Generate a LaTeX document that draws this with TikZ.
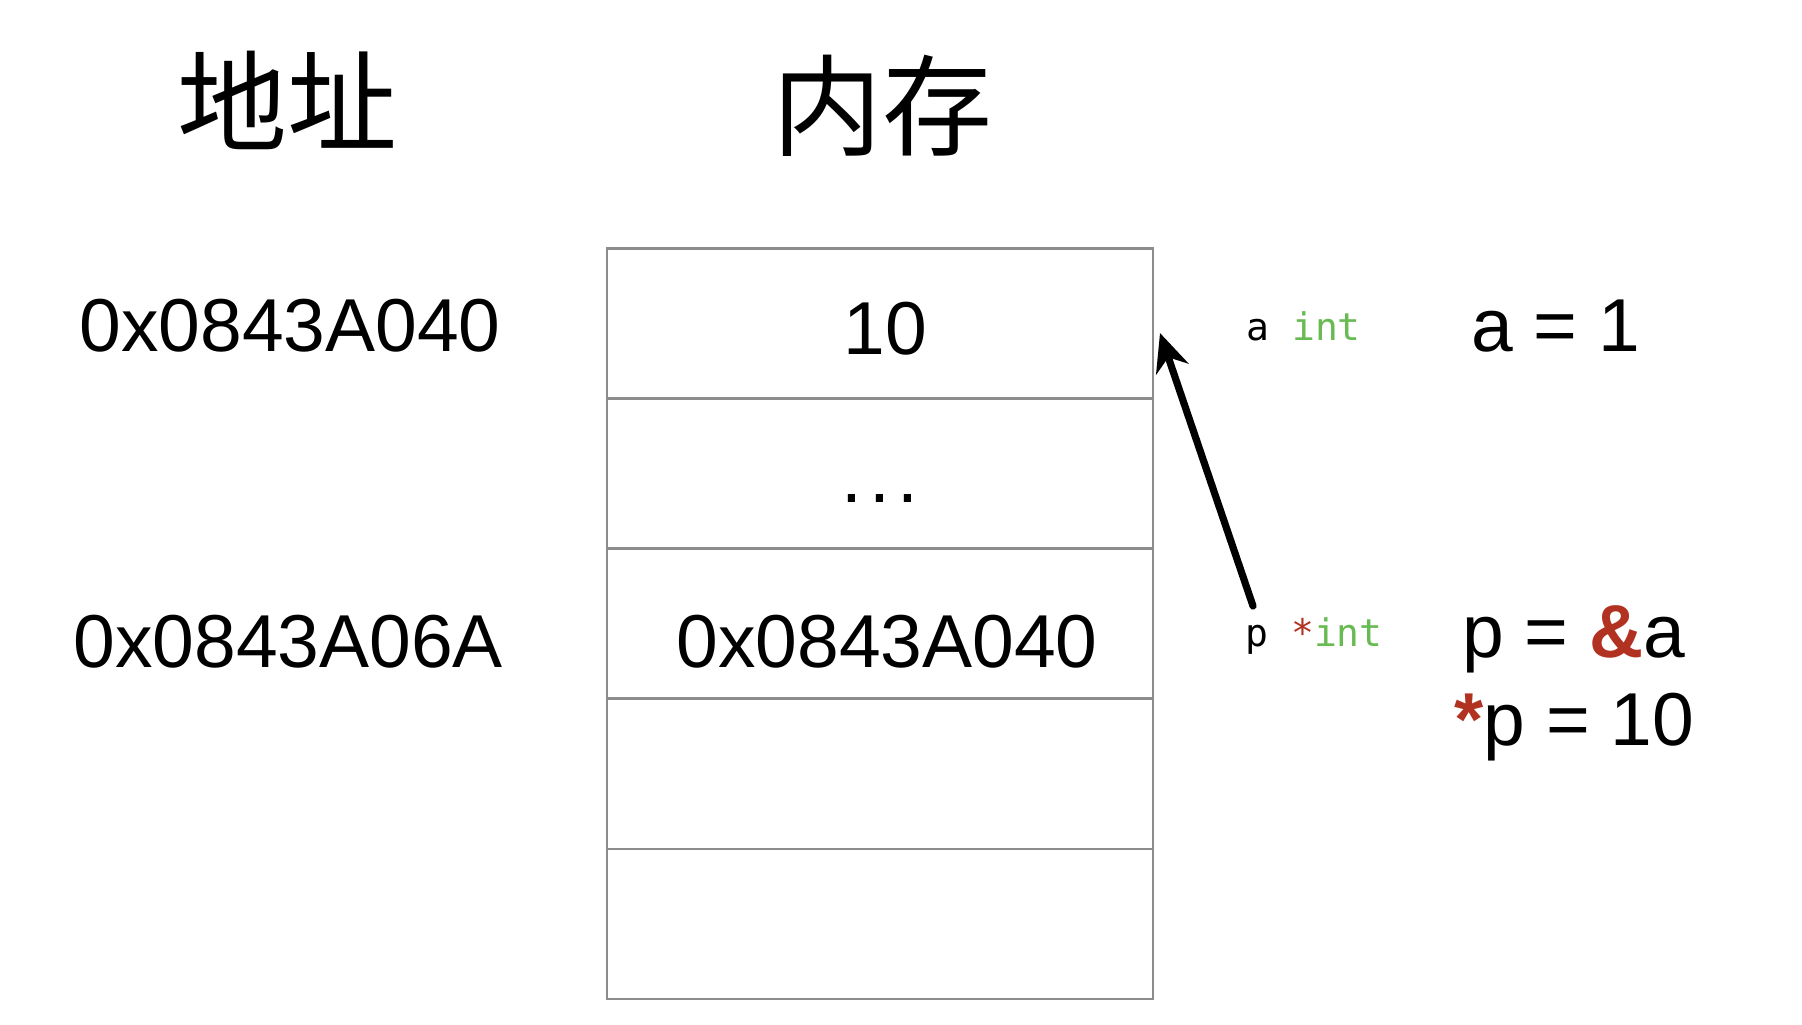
\documentclass[tikz,border=0pt]{standalone}
\usepackage{fontspec}
\setmainfont{Liberation Sans}
\newfontfamily\cjk{Noto Sans CJK SC}
\newfontfamily\codefont{DejaVu Sans Mono}
\usetikzlibrary{arrows.meta}
\definecolor{cellgray}{RGB}{140,140,140}
\definecolor{ampred}{RGB}{178,50,34}
\definecolor{typegreen}{RGB}{104,186,82}
\begin{document}
\begin{tikzpicture}[x=0.5pt,y=-0.5pt,
  cell/.style={draw=cellgray,line width=1.4pt,minimum width=273pt,minimum height=75pt,inner sep=0pt,fill=white},
  big/.style={inner sep=0pt,font=\fontsize{37.5}{44}\selectfont},
  title/.style={inner sep=0pt,font=\cjk\fontsize{55}{60}\selectfont},
  code/.style={inner sep=0pt,font=\codefont\fontsize{19}{22}\selectfont},
  ptr/.style={-{Stealth[length=19pt,width=17pt]},line width=3.6pt,line cap=round}]
\useasboundingbox[fill=white] (0,0) rectangle (1802,1024);
% titles
\node[title] (t1) at (287,100) {地址};
\node[title] (t2) at (882,106) {内存};
% memory cells
\node[cell] (c1) at (880,323.5) {};
\node[cell] (c2) at (880,473.5) {};
\node[cell] (c3) at (880,623.5) {};
\node[cell] (c4) at (880,774) {};
\node[cell] (c5) at (880,924) {};
% cell contents
\node[big,anchor=base] (v1) at (885,354) {10};
\node[big,anchor=base] (v2) at (880,502) {.\hspace{0.1em}.\hspace{0.1em}.};
\node[big,anchor=base west] (v3) at (676,667) {0x0843A040};
% addresses
\node[big,anchor=base west] (a1) at (79,351) {0x0843A040};
\node[big,anchor=base west] (a2) at (73,667) {0x0843A06A};
% variable declarations
\node[code,anchor=base west] (da) at (1246,340) {a \textcolor{typegreen}{int}};
\node[code,anchor=base west] (dp) at (1245,646) {p \textcolor{ampred}{*}\textcolor{typegreen}{int}};
% statements
\node[big,anchor=base west] (s1) at (1471,351) {a = 1};
\node[big,anchor=base west] (s2) at (1462,657) {p = \textcolor{ampred}{\bfseries\&}a};
\node[big,anchor=base west] (s3) at (1454,745) {\textcolor{ampred}{\bfseries *}p = 10};
% pointer arrow
\coordinate (ptail) at (1253,606);
\coordinate (phead) at (1160,333);
\draw[ptr] (ptail) -- (phead);
\end{tikzpicture}
\end{document}
